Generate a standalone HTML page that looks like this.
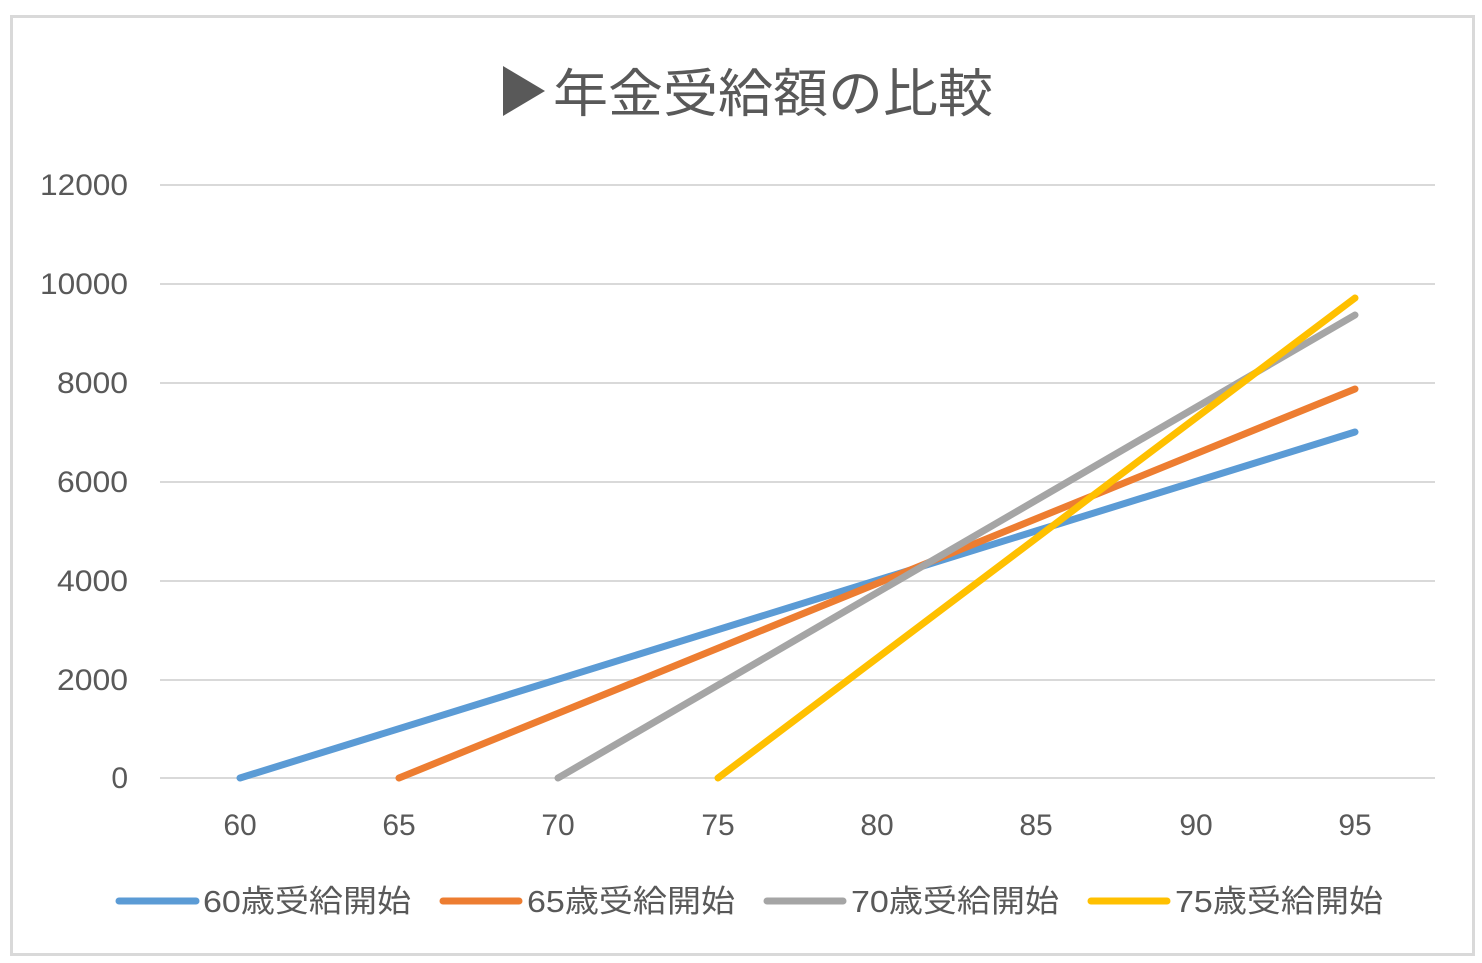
<!DOCTYPE html>
<html><head><meta charset="utf-8"><style>
html,body{margin:0;padding:0;background:#fff;}
svg{display:block;}
text{font-family:"Liberation Sans","Noto Sans CJK JP",sans-serif;fill:#595959;}
</style></head><body>
<svg width="1482" height="963" viewBox="0 0 1482 963" xmlns="http://www.w3.org/2000/svg">
<rect x="11.5" y="16.5" width="1462" height="938" fill="#fff" stroke="#d9d9d9" stroke-width="3"/>
<polygon points="503,66 503,116 545,91" fill="#595959"/>
<text x="553" y="112" font-size="52" textLength="440" lengthAdjust="spacingAndGlyphs">年金受給額の比較</text>
<g stroke="#d9d9d9" stroke-width="2">
<line x1="160" y1="185" x2="1435" y2="185"/>
<line x1="160" y1="284" x2="1435" y2="284"/>
<line x1="160" y1="383" x2="1435" y2="383"/>
<line x1="160" y1="482" x2="1435" y2="482"/>
<line x1="160" y1="581" x2="1435" y2="581"/>
<line x1="160" y1="680" x2="1435" y2="680"/>
<line x1="160" y1="778" x2="1435" y2="778"/>
</g>
<g font-size="30" text-anchor="end">
<text x="128" y="195" textLength="88" lengthAdjust="spacingAndGlyphs">12000</text>
<text x="128" y="294" textLength="88" lengthAdjust="spacingAndGlyphs">10000</text>
<text x="128" y="393" textLength="71" lengthAdjust="spacingAndGlyphs">8000</text>
<text x="128" y="492" textLength="71" lengthAdjust="spacingAndGlyphs">6000</text>
<text x="128" y="591" textLength="71" lengthAdjust="spacingAndGlyphs">4000</text>
<text x="128" y="690" textLength="71" lengthAdjust="spacingAndGlyphs">2000</text>
<text x="128" y="788">0</text>
</g>
<g font-size="30" text-anchor="middle">
<text x="240" y="835">60</text>
<text x="399" y="835">65</text>
<text x="558" y="835">70</text>
<text x="718" y="835">75</text>
<text x="877" y="835">80</text>
<text x="1036" y="835">85</text>
<text x="1196" y="835">90</text>
<text x="1355" y="835">95</text>
</g>
<g stroke-width="7" stroke-linecap="round" fill="none">
<line x1="240" y1="778" x2="1355" y2="432" stroke="#5b9bd5"/>
<line x1="399" y1="778" x2="1355" y2="389" stroke="#ed7d31"/>
<line x1="558" y1="778" x2="1355" y2="315" stroke="#a5a5a5"/>
<line x1="718" y1="778" x2="1355" y2="298" stroke="#ffc000"/>
</g>
<g stroke-width="7" stroke-linecap="round">
<line x1="119" y1="901" x2="196" y2="901" stroke="#5b9bd5"/>
<line x1="443" y1="901" x2="519" y2="901" stroke="#ed7d31"/>
<line x1="767" y1="901" x2="843" y2="901" stroke="#a5a5a5"/>
<line x1="1091" y1="901" x2="1167" y2="901" stroke="#ffc000"/>
</g>
<g font-size="31">
<text x="203" y="912" textLength="208" lengthAdjust="spacingAndGlyphs">60歳受給開始</text>
<text x="527" y="912" textLength="208" lengthAdjust="spacingAndGlyphs">65歳受給開始</text>
<text x="851" y="912" textLength="208" lengthAdjust="spacingAndGlyphs">70歳受給開始</text>
<text x="1175" y="912" textLength="208" lengthAdjust="spacingAndGlyphs">75歳受給開始</text>
</g>
</svg>
</body></html>
